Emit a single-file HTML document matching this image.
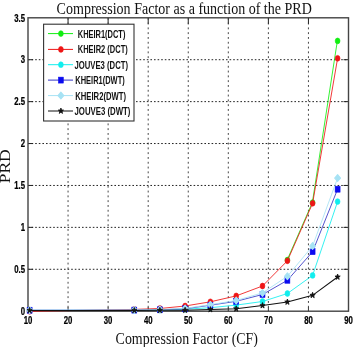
<!DOCTYPE html><html><head><meta charset="utf-8"><style>html,body{margin:0;padding:0;background:#fff;width:354px;height:347px;overflow:hidden}svg{display:block;filter:blur(0.3px)}</style></head><body>
<svg width="354" height="347" viewBox="0 0 354 347">
<rect width="354" height="347" fill="#fff"/>
<line x1="68.06" y1="17.8" x2="68.06" y2="311.2" stroke="#333" stroke-width="0.9" stroke-dasharray="1.9 2.9"/><line x1="108.12" y1="17.8" x2="108.12" y2="311.2" stroke="#333" stroke-width="0.9" stroke-dasharray="1.9 2.9"/><line x1="148.19" y1="17.8" x2="148.19" y2="311.2" stroke="#333" stroke-width="0.9" stroke-dasharray="1.9 2.9"/><line x1="188.25" y1="17.8" x2="188.25" y2="311.2" stroke="#333" stroke-width="0.9" stroke-dasharray="1.9 2.9"/><line x1="228.31" y1="17.8" x2="228.31" y2="311.2" stroke="#333" stroke-width="0.9" stroke-dasharray="1.9 2.9"/><line x1="268.38" y1="17.8" x2="268.38" y2="311.2" stroke="#333" stroke-width="0.9" stroke-dasharray="1.9 2.9"/><line x1="308.44" y1="17.8" x2="308.44" y2="311.2" stroke="#333" stroke-width="0.9" stroke-dasharray="1.9 2.9"/><line x1="28.0" y1="269.29" x2="348.5" y2="269.29" stroke="#222" stroke-width="1" stroke-dasharray="1.6 2.0"/><line x1="28.0" y1="227.37" x2="348.5" y2="227.37" stroke="#222" stroke-width="1" stroke-dasharray="1.6 2.0"/><line x1="28.0" y1="185.46" x2="348.5" y2="185.46" stroke="#222" stroke-width="1" stroke-dasharray="1.6 2.0"/><line x1="28.0" y1="143.54" x2="348.5" y2="143.54" stroke="#222" stroke-width="1" stroke-dasharray="1.6 2.0"/><line x1="28.0" y1="101.63" x2="348.5" y2="101.63" stroke="#222" stroke-width="1" stroke-dasharray="1.6 2.0"/><line x1="28.0" y1="59.71" x2="348.5" y2="59.71" stroke="#222" stroke-width="1" stroke-dasharray="1.6 2.0"/>
<line x1="68.06" y1="311.2" x2="68.06" y2="307.2" stroke="#222" stroke-width="0.9"/><line x1="68.06" y1="17.8" x2="68.06" y2="23.8" stroke="#222" stroke-width="1"/><line x1="108.12" y1="311.2" x2="108.12" y2="307.2" stroke="#222" stroke-width="0.9"/><line x1="108.12" y1="17.8" x2="108.12" y2="23.8" stroke="#222" stroke-width="1"/><line x1="148.19" y1="311.2" x2="148.19" y2="307.2" stroke="#222" stroke-width="0.9"/><line x1="148.19" y1="17.8" x2="148.19" y2="23.8" stroke="#222" stroke-width="1"/><line x1="188.25" y1="311.2" x2="188.25" y2="307.2" stroke="#222" stroke-width="0.9"/><line x1="188.25" y1="17.8" x2="188.25" y2="23.8" stroke="#222" stroke-width="1"/><line x1="228.31" y1="311.2" x2="228.31" y2="307.2" stroke="#222" stroke-width="0.9"/><line x1="228.31" y1="17.8" x2="228.31" y2="23.8" stroke="#222" stroke-width="1"/><line x1="268.38" y1="311.2" x2="268.38" y2="307.2" stroke="#222" stroke-width="0.9"/><line x1="268.38" y1="17.8" x2="268.38" y2="23.8" stroke="#222" stroke-width="1"/><line x1="308.44" y1="311.2" x2="308.44" y2="307.2" stroke="#222" stroke-width="0.9"/><line x1="308.44" y1="17.8" x2="308.44" y2="23.8" stroke="#222" stroke-width="1"/><line x1="28.0" y1="269.29" x2="33.0" y2="269.29" stroke="#222" stroke-width="1"/><line x1="348.5" y1="269.29" x2="343.5" y2="269.29" stroke="#222" stroke-width="1"/><line x1="28.0" y1="227.37" x2="33.0" y2="227.37" stroke="#222" stroke-width="1"/><line x1="348.5" y1="227.37" x2="343.5" y2="227.37" stroke="#222" stroke-width="1"/><line x1="28.0" y1="185.46" x2="33.0" y2="185.46" stroke="#222" stroke-width="1"/><line x1="348.5" y1="185.46" x2="343.5" y2="185.46" stroke="#222" stroke-width="1"/><line x1="28.0" y1="143.54" x2="33.0" y2="143.54" stroke="#222" stroke-width="1"/><line x1="348.5" y1="143.54" x2="343.5" y2="143.54" stroke="#222" stroke-width="1"/><line x1="28.0" y1="101.63" x2="33.0" y2="101.63" stroke="#222" stroke-width="1"/><line x1="348.5" y1="101.63" x2="343.5" y2="101.63" stroke="#222" stroke-width="1"/><line x1="28.0" y1="59.71" x2="33.0" y2="59.71" stroke="#222" stroke-width="1"/><line x1="348.5" y1="59.71" x2="343.5" y2="59.71" stroke="#222" stroke-width="1"/>
<rect x="28.0" y="17.8" width="320.5" height="293.4" fill="none" stroke="#444" stroke-width="1.4"/>
<polyline points="287.15,260.00 312.35,202.60 337.35,40.90" fill="none" stroke="#11ee11" stroke-width="0.85"/>
<ellipse cx="287.40" cy="260.00" rx="2.4" ry="2.9" fill="#11ee11" stroke="#11ee11" stroke-width="0.6"/><ellipse cx="312.60" cy="202.60" rx="2.4" ry="2.9" fill="#11ee11" stroke="#11ee11" stroke-width="0.6"/><ellipse cx="337.60" cy="40.90" rx="2.4" ry="2.9" fill="#11ee11" stroke="#11ee11" stroke-width="0.6"/>
<polyline points="29.60,311.30 134.30,309.40 159.90,308.50 185.10,306.00 210.40,301.80 236.20,295.90 262.50,286.00 287.40,260.80 312.60,203.30 337.60,58.30" fill="none" stroke="#ee1515" stroke-width="0.85"/>
<ellipse cx="29.60" cy="311.30" rx="2.4" ry="2.9" fill="#ee1515" stroke="#ee1515" stroke-width="0.6"/><ellipse cx="134.30" cy="309.40" rx="2.4" ry="2.9" fill="#ee1515" stroke="#ee1515" stroke-width="0.6"/><ellipse cx="159.90" cy="308.50" rx="2.4" ry="2.9" fill="#ee1515" stroke="#ee1515" stroke-width="0.6"/><ellipse cx="185.10" cy="306.00" rx="2.4" ry="2.9" fill="#ee1515" stroke="#ee1515" stroke-width="0.6"/><ellipse cx="210.40" cy="301.80" rx="2.4" ry="2.9" fill="#ee1515" stroke="#ee1515" stroke-width="0.6"/><ellipse cx="236.20" cy="295.90" rx="2.4" ry="2.9" fill="#ee1515" stroke="#ee1515" stroke-width="0.6"/><ellipse cx="262.50" cy="286.00" rx="2.4" ry="2.9" fill="#ee1515" stroke="#ee1515" stroke-width="0.6"/><ellipse cx="287.40" cy="260.80" rx="2.4" ry="2.9" fill="#ee1515" stroke="#ee1515" stroke-width="0.6"/><ellipse cx="312.60" cy="203.30" rx="2.4" ry="2.9" fill="#ee1515" stroke="#ee1515" stroke-width="0.6"/><ellipse cx="337.60" cy="58.30" rx="2.4" ry="2.9" fill="#ee1515" stroke="#ee1515" stroke-width="0.6"/>
<polyline points="29.60,310.40 134.30,310.30 159.90,310.10 185.10,309.20 210.40,307.70 236.20,305.10 262.50,301.50 287.40,293.50 312.60,275.40 337.60,201.60" fill="none" stroke="#11eeee" stroke-width="0.85"/>
<ellipse cx="29.60" cy="310.40" rx="2.4" ry="2.9" fill="#11eeee" stroke="#11eeee" stroke-width="0.6"/><ellipse cx="134.30" cy="310.30" rx="2.4" ry="2.9" fill="#11eeee" stroke="#11eeee" stroke-width="0.6"/><ellipse cx="159.90" cy="310.10" rx="2.4" ry="2.9" fill="#11eeee" stroke="#11eeee" stroke-width="0.6"/><ellipse cx="185.10" cy="309.20" rx="2.4" ry="2.9" fill="#11eeee" stroke="#11eeee" stroke-width="0.6"/><ellipse cx="210.40" cy="307.70" rx="2.4" ry="2.9" fill="#11eeee" stroke="#11eeee" stroke-width="0.6"/><ellipse cx="236.20" cy="305.10" rx="2.4" ry="2.9" fill="#11eeee" stroke="#11eeee" stroke-width="0.6"/><ellipse cx="262.50" cy="301.50" rx="2.4" ry="2.9" fill="#11eeee" stroke="#11eeee" stroke-width="0.6"/><ellipse cx="287.40" cy="293.50" rx="2.4" ry="2.9" fill="#11eeee" stroke="#11eeee" stroke-width="0.6"/><ellipse cx="312.60" cy="275.40" rx="2.4" ry="2.9" fill="#11eeee" stroke="#11eeee" stroke-width="0.6"/><ellipse cx="337.60" cy="201.60" rx="2.4" ry="2.9" fill="#11eeee" stroke="#11eeee" stroke-width="0.6"/>
<polyline points="29.60,310.20 134.30,310.10 159.90,309.80 185.10,308.80 210.40,305.20 236.20,301.30 262.50,294.50 287.40,280.30 312.60,251.70 337.60,189.20" fill="none" stroke="#3535c5" stroke-width="0.85"/>
<rect x="27.10" y="307.20" width="5" height="6" fill="#0a0af0" stroke="#0a0af0" stroke-width="0.5"/><rect x="131.80" y="307.10" width="5" height="6" fill="#0a0af0" stroke="#0a0af0" stroke-width="0.5"/><rect x="157.40" y="306.80" width="5" height="6" fill="#0a0af0" stroke="#0a0af0" stroke-width="0.5"/><rect x="182.60" y="305.80" width="5" height="6" fill="#0a0af0" stroke="#0a0af0" stroke-width="0.5"/><rect x="207.90" y="302.20" width="5" height="6" fill="#0a0af0" stroke="#0a0af0" stroke-width="0.5"/><rect x="233.70" y="298.30" width="5" height="6" fill="#0a0af0" stroke="#0a0af0" stroke-width="0.5"/><rect x="260.00" y="291.50" width="5" height="6" fill="#0a0af0" stroke="#0a0af0" stroke-width="0.5"/><rect x="284.90" y="277.30" width="5" height="6" fill="#0a0af0" stroke="#0a0af0" stroke-width="0.5"/><rect x="310.10" y="248.70" width="5" height="6" fill="#0a0af0" stroke="#0a0af0" stroke-width="0.5"/><rect x="335.10" y="186.20" width="5" height="6" fill="#0a0af0" stroke="#0a0af0" stroke-width="0.5"/>
<polyline points="29.60,310.20 134.30,310.00 159.90,309.60 185.10,308.40 210.40,304.70 236.20,300.50 262.50,292.90 287.40,276.30 312.60,246.00 337.60,178.10" fill="none" stroke="#a6e2f4" stroke-width="0.85"/>
<polygon points="26.70,310.20 29.60,306.80 32.50,310.20 29.60,313.60" fill="#a6e2f4" stroke="#a6e2f4" stroke-width="1.1" stroke-linejoin="round"/><polygon points="131.40,310.00 134.30,306.60 137.20,310.00 134.30,313.40" fill="#a6e2f4" stroke="#a6e2f4" stroke-width="1.1" stroke-linejoin="round"/><polygon points="157.00,309.60 159.90,306.20 162.80,309.60 159.90,313.00" fill="#a6e2f4" stroke="#a6e2f4" stroke-width="1.1" stroke-linejoin="round"/><polygon points="182.20,308.40 185.10,305.00 188.00,308.40 185.10,311.80" fill="#a6e2f4" stroke="#a6e2f4" stroke-width="1.1" stroke-linejoin="round"/><polygon points="207.50,304.70 210.40,301.30 213.30,304.70 210.40,308.10" fill="#a6e2f4" stroke="#a6e2f4" stroke-width="1.1" stroke-linejoin="round"/><polygon points="233.30,300.50 236.20,297.10 239.10,300.50 236.20,303.90" fill="#a6e2f4" stroke="#a6e2f4" stroke-width="1.1" stroke-linejoin="round"/><polygon points="259.60,292.90 262.50,289.50 265.40,292.90 262.50,296.30" fill="#a6e2f4" stroke="#a6e2f4" stroke-width="1.1" stroke-linejoin="round"/><polygon points="284.50,276.30 287.40,272.90 290.30,276.30 287.40,279.70" fill="#a6e2f4" stroke="#a6e2f4" stroke-width="1.1" stroke-linejoin="round"/><polygon points="309.70,246.00 312.60,242.60 315.50,246.00 312.60,249.40" fill="#a6e2f4" stroke="#a6e2f4" stroke-width="1.1" stroke-linejoin="round"/><polygon points="334.70,178.10 337.60,174.70 340.50,178.10 337.60,181.50" fill="#a6e2f4" stroke="#a6e2f4" stroke-width="1.1" stroke-linejoin="round"/>
<polyline points="29.60,310.40 134.30,310.40 159.90,310.30 185.10,310.20 210.40,309.60 236.20,308.80 262.50,305.60 287.40,302.00 312.60,295.30 337.60,277.00" fill="none" stroke="#111111" stroke-width="1.05"/>
<polygon points="29.60,307.40 30.28,309.38 32.22,309.47 30.70,310.79 31.22,312.83 29.60,311.66 27.98,312.83 28.50,310.79 26.98,309.47 28.92,309.38" fill="#111111" stroke="#111111" stroke-width="0.8" stroke-linejoin="round"/><polygon points="134.30,307.40 134.98,309.38 136.92,309.47 135.40,310.79 135.92,312.83 134.30,311.66 132.68,312.83 133.20,310.79 131.68,309.47 133.62,309.38" fill="#111111" stroke="#111111" stroke-width="0.8" stroke-linejoin="round"/><polygon points="159.90,307.30 160.58,309.28 162.52,309.37 161.00,310.69 161.52,312.73 159.90,311.56 158.28,312.73 158.80,310.69 157.28,309.37 159.22,309.28" fill="#111111" stroke="#111111" stroke-width="0.8" stroke-linejoin="round"/><polygon points="185.10,307.20 185.78,309.18 187.72,309.27 186.20,310.59 186.72,312.63 185.10,311.46 183.48,312.63 184.00,310.59 182.48,309.27 184.42,309.18" fill="#111111" stroke="#111111" stroke-width="0.8" stroke-linejoin="round"/><polygon points="210.40,306.60 211.08,308.58 213.02,308.67 211.50,309.99 212.02,312.03 210.40,310.86 208.78,312.03 209.30,309.99 207.78,308.67 209.72,308.58" fill="#111111" stroke="#111111" stroke-width="0.8" stroke-linejoin="round"/><polygon points="236.20,305.80 236.88,307.78 238.82,307.87 237.30,309.19 237.82,311.23 236.20,310.06 234.58,311.23 235.10,309.19 233.58,307.87 235.52,307.78" fill="#111111" stroke="#111111" stroke-width="0.8" stroke-linejoin="round"/><polygon points="262.50,302.60 263.18,304.58 265.12,304.67 263.60,305.99 264.12,308.03 262.50,306.86 260.88,308.03 261.40,305.99 259.88,304.67 261.82,304.58" fill="#111111" stroke="#111111" stroke-width="0.8" stroke-linejoin="round"/><polygon points="287.40,299.00 288.08,300.98 290.02,301.07 288.50,302.39 289.02,304.43 287.40,303.26 285.78,304.43 286.30,302.39 284.78,301.07 286.72,300.98" fill="#111111" stroke="#111111" stroke-width="0.8" stroke-linejoin="round"/><polygon points="312.60,292.30 313.28,294.28 315.22,294.37 313.70,295.69 314.22,297.73 312.60,296.56 310.98,297.73 311.50,295.69 309.98,294.37 311.92,294.28" fill="#111111" stroke="#111111" stroke-width="0.8" stroke-linejoin="round"/><polygon points="337.60,274.00 338.28,275.98 340.22,276.07 338.70,277.39 339.22,279.43 337.60,278.26 335.98,279.43 336.50,277.39 334.98,276.07 336.92,275.98" fill="#111111" stroke="#111111" stroke-width="0.8" stroke-linejoin="round"/>
<text transform="translate(25,314.90) scale(0.74,1)" text-anchor="end" font-family="Liberation Sans" font-weight="bold" font-size="10.5" fill="#000" stroke="#000" stroke-width="0.25">0</text><text transform="translate(25,272.99) scale(0.74,1)" text-anchor="end" font-family="Liberation Sans" font-weight="bold" font-size="10.5" fill="#000" stroke="#000" stroke-width="0.25">0.5</text><text transform="translate(25,231.07) scale(0.74,1)" text-anchor="end" font-family="Liberation Sans" font-weight="bold" font-size="10.5" fill="#000" stroke="#000" stroke-width="0.25">1</text><text transform="translate(25,189.16) scale(0.74,1)" text-anchor="end" font-family="Liberation Sans" font-weight="bold" font-size="10.5" fill="#000" stroke="#000" stroke-width="0.25">1.5</text><text transform="translate(25,147.24) scale(0.74,1)" text-anchor="end" font-family="Liberation Sans" font-weight="bold" font-size="10.5" fill="#000" stroke="#000" stroke-width="0.25">2</text><text transform="translate(25,105.33) scale(0.74,1)" text-anchor="end" font-family="Liberation Sans" font-weight="bold" font-size="10.5" fill="#000" stroke="#000" stroke-width="0.25">2.5</text><text transform="translate(25,63.41) scale(0.74,1)" text-anchor="end" font-family="Liberation Sans" font-weight="bold" font-size="10.5" fill="#000" stroke="#000" stroke-width="0.25">3</text><text transform="translate(25,21.50) scale(0.74,1)" text-anchor="end" font-family="Liberation Sans" font-weight="bold" font-size="10.5" fill="#000" stroke="#000" stroke-width="0.25">3.5</text><text transform="translate(28.00,324) scale(0.74,1)" text-anchor="middle" font-family="Liberation Sans" font-weight="bold" font-size="10.5" fill="#000" stroke="#000" stroke-width="0.25">10</text><text transform="translate(68.06,324) scale(0.74,1)" text-anchor="middle" font-family="Liberation Sans" font-weight="bold" font-size="10.5" fill="#000" stroke="#000" stroke-width="0.25">20</text><text transform="translate(108.12,324) scale(0.74,1)" text-anchor="middle" font-family="Liberation Sans" font-weight="bold" font-size="10.5" fill="#000" stroke="#000" stroke-width="0.25">30</text><text transform="translate(148.19,324) scale(0.74,1)" text-anchor="middle" font-family="Liberation Sans" font-weight="bold" font-size="10.5" fill="#000" stroke="#000" stroke-width="0.25">40</text><text transform="translate(188.25,324) scale(0.74,1)" text-anchor="middle" font-family="Liberation Sans" font-weight="bold" font-size="10.5" fill="#000" stroke="#000" stroke-width="0.25">50</text><text transform="translate(228.31,324) scale(0.74,1)" text-anchor="middle" font-family="Liberation Sans" font-weight="bold" font-size="10.5" fill="#000" stroke="#000" stroke-width="0.25">60</text><text transform="translate(268.38,324) scale(0.74,1)" text-anchor="middle" font-family="Liberation Sans" font-weight="bold" font-size="10.5" fill="#000" stroke="#000" stroke-width="0.25">70</text><text transform="translate(308.44,324) scale(0.74,1)" text-anchor="middle" font-family="Liberation Sans" font-weight="bold" font-size="10.5" fill="#000" stroke="#000" stroke-width="0.25">80</text><text transform="translate(348.50,324) scale(0.74,1)" text-anchor="middle" font-family="Liberation Sans" font-weight="bold" font-size="10.5" fill="#000" stroke="#000" stroke-width="0.25">90</text>
<text x="56.6" y="13.5" textLength="255.2" lengthAdjust="spacingAndGlyphs" font-family="Liberation Serif" font-size="17.5" fill="#111">Compression Factor as a function of the PRD</text>
<text x="115.6" y="343.6" textLength="142.4" lengthAdjust="spacingAndGlyphs" font-family="Liberation Serif" font-size="17.5" fill="#111">Compression Factor (CF)</text>
<g transform="translate(10.4,183.3) scale(0.92,1) rotate(-90)"><text x="0" y="0" textLength="34" lengthAdjust="spacingAndGlyphs" font-family="Liberation Serif" font-size="17" fill="#111">PRD</text></g>
<rect x="43.6" y="24.2" width="90.4" height="96.8" fill="#fff" stroke="#333" stroke-width="1.1"/>
<line x1="48" y1="33.6" x2="73" y2="33.6" stroke="#11ee11" stroke-width="1"/>
<ellipse cx="60.90" cy="33.60" rx="2.4" ry="2.9" fill="#11ee11" stroke="#11ee11" stroke-width="0.6"/>
<text x="77.8" y="37.6" textLength="47.6" lengthAdjust="spacingAndGlyphs" font-family="Liberation Sans" font-weight="bold" font-size="11" fill="#111">KHEIR1(DCT)</text>
<line x1="48" y1="49.4" x2="73" y2="49.4" stroke="#ee1515" stroke-width="1"/>
<ellipse cx="60.90" cy="49.40" rx="2.4" ry="2.9" fill="#ee1515" stroke="#ee1515" stroke-width="0.6"/>
<text x="77.8" y="53.4" textLength="49.9" lengthAdjust="spacingAndGlyphs" font-family="Liberation Sans" font-weight="bold" font-size="11" fill="#111">KHEIR2 (DCT)</text>
<line x1="48" y1="64.7" x2="73" y2="64.7" stroke="#11eeee" stroke-width="1"/>
<ellipse cx="60.90" cy="64.70" rx="2.4" ry="2.9" fill="#11eeee" stroke="#11eeee" stroke-width="0.6"/>
<text x="74.5" y="68.7" textLength="53.5" lengthAdjust="spacingAndGlyphs" font-family="Liberation Sans" font-weight="bold" font-size="11" fill="#111">JOUVE3 (DCT)</text>
<line x1="48" y1="80.1" x2="73" y2="80.1" stroke="#3535c5" stroke-width="1"/>
<rect x="58.40" y="77.10" width="5" height="6" fill="#0a0af0" stroke="#0a0af0" stroke-width="0.5"/>
<text x="75.3" y="84.1" textLength="49.4" lengthAdjust="spacingAndGlyphs" font-family="Liberation Sans" font-weight="bold" font-size="11" fill="#111">KHEIR1(DWT)</text>
<line x1="48" y1="95.6" x2="73" y2="95.6" stroke="#a6e2f4" stroke-width="1"/>
<polygon points="58.00,95.60 60.90,92.20 63.80,95.60 60.90,99.00" fill="#a6e2f4" stroke="#a6e2f4" stroke-width="1.1" stroke-linejoin="round"/>
<text x="75.3" y="99.6" textLength="50.7" lengthAdjust="spacingAndGlyphs" font-family="Liberation Sans" font-weight="bold" font-size="11" fill="#111">KHEIR2(DWT)</text>
<line x1="48" y1="111.0" x2="73" y2="111.0" stroke="#111111" stroke-width="1"/>
<polygon points="60.90,108.00 61.58,109.98 63.52,110.07 62.00,111.39 62.52,113.43 60.90,112.26 59.28,113.43 59.80,111.39 58.28,110.07 60.22,109.98" fill="#111111" stroke="#111111" stroke-width="0.8" stroke-linejoin="round"/>
<text x="74.5" y="115.0" textLength="55.9" lengthAdjust="spacingAndGlyphs" font-family="Liberation Sans" font-weight="bold" font-size="11" fill="#111">JOUVE3 (DWT)</text>
</svg></body></html>
